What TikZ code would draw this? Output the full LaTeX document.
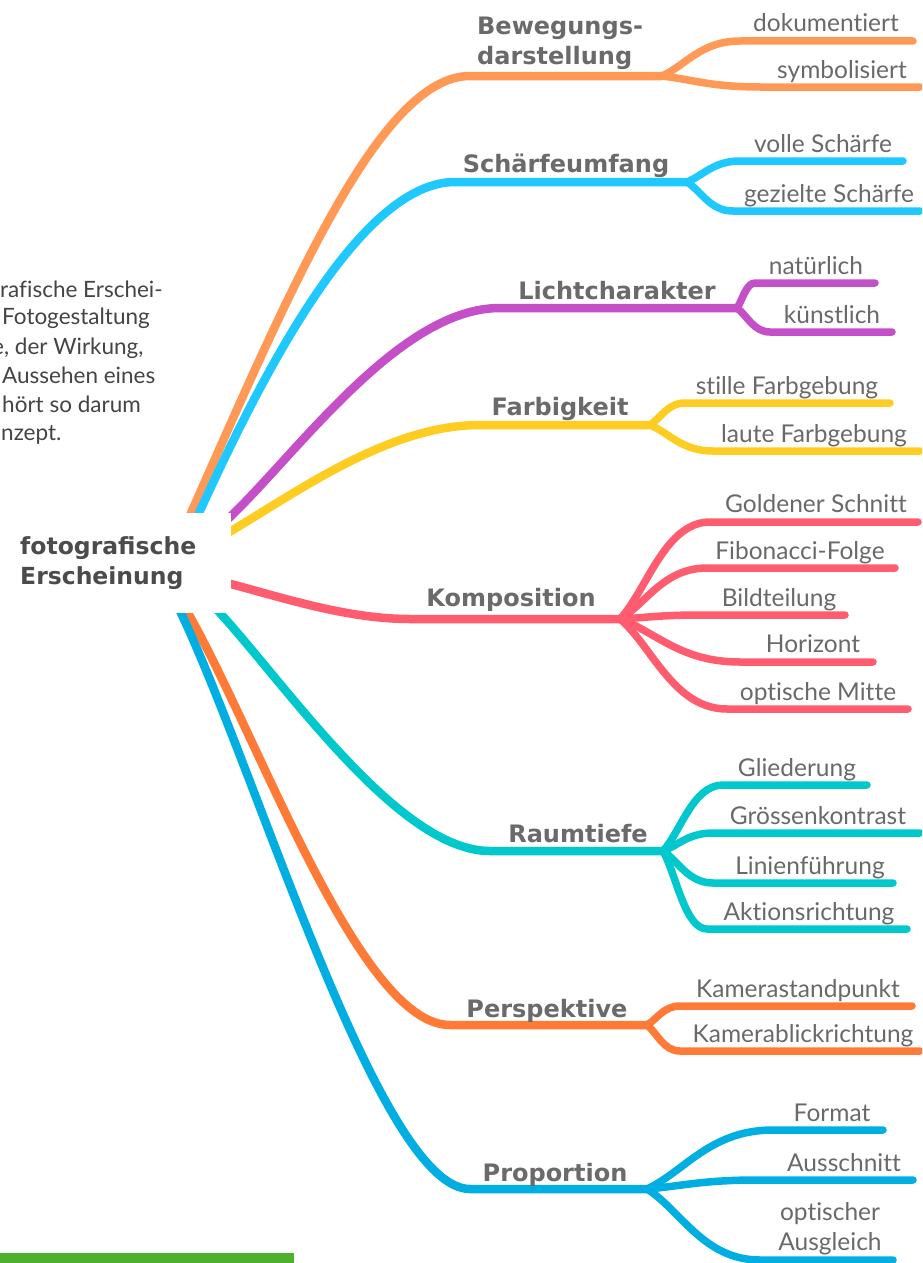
\documentclass[tikz,border=0pt]{standalone}
\usepackage{fontspec}
\setmainfont{Lato}[Ligatures=NoCommon]
\newfontfamily\headfont{DejaVu Sans}
\usetikzlibrary{calc}
\definecolor{cBew}{RGB}{255,153,85}
\definecolor{cSch}{RGB}{31,200,255}
\definecolor{cLic}{RGB}{196,79,200}
\definecolor{cFar}{RGB}{255,204,34}
\definecolor{cKom}{RGB}{255,92,112}
\definecolor{cRau}{RGB}{0,200,204}
\definecolor{cPer}{RGB}{255,122,54}
\definecolor{cPro}{RGB}{0,174,226}
\definecolor{barGreen}{RGB}{78,176,45}
\definecolor{labelgrey}{RGB}{105,105,105}
\definecolor{maingrey}{RGB}{106,106,106}
\definecolor{rootgrey}{RGB}{75,75,75}
\definecolor{paragrey}{RGB}{68,68,68}
\tikzset{
  mainline/.style={line width=8.5pt, line cap=butt, line join=round},
  subline/.style={line width=7.5pt, line cap=round, line join=round},
  sublabel/.style={anchor=base, inner sep=0pt, text=labelgrey, align=center, font=\fontsize{24.5}{30}\selectfont},
  mainlabel/.style={anchor=base, inner sep=0pt, text=maingrey, font=\headfont\bfseries\fontsize{24}{30}\selectfont},
  rootbox/.style={fill=white, minimum width=222pt, minimum height=100pt, inner sep=0pt},
  rootlabel/.style={anchor=base west, inner sep=0pt, text=rootgrey, align=left, font=\headfont\bfseries\fontsize{23.5}{30}\selectfont},
  para/.style={anchor=base west, inner sep=0pt, text=paragrey, font=\fontsize{22.5}{28}\selectfont},
}
% main branch: #1 colour, #2 name, #3 start, #4 control 1, #5 control 2, #6 horizontal start, #7 split point
\newcommand\mbranch[7]{%
  \coordinate (#2-0) at (#3);
  \coordinate (#2-c1) at (#4);
  \coordinate (#2-c2) at (#5);
  \coordinate (#2-h) at (#6);
  \coordinate (#2) at (#7);
  \draw[mainline,#1] ($(#2-0)!-0.25!(#2-c1)$) -- (#2-0) .. controls (#2-c1) and (#2-c2) .. (#2-h) -- (#2);
}
% sub branch: #1 colour, #2 split name, #3 name, #4 horizontal start x, #5 y, #6 end x
\newcommand\sbranch[6]{%
  \coordinate (#3-h) at (#4,#5);
  \coordinate (#3) at (#6,#5);
  \coordinate (#3-a) at ($(#2)!0.3!(#3-h)$);
  \coordinate (#3-m) at ($(#2)!0.5!(#3-h)$);
  \draw[subline,#1] (#2) .. controls (#3-a) and (#3-m |- #3-h) .. (#3-h) -- (#3);
}
\begin{document}
\begin{tikzpicture}[x=1pt,y=-1pt]
\useasboundingbox (0,0) rectangle (922,1263);
\clip (0,0) rectangle (922,1263);

% text at the left, cut by the edge
\node[para] (p1) at (0,297) {rafische Erschei-};
\node[para] (p2) at (2,324) {Fotogestaltung};
\node[para] (p3) at (-8,354) {e, der Wirkung,};
\node[para] (p4) at (2,383) {Aussehen eines};
\node[para] (p5) at (2,412) {hört so darum};
\node[para] (p6) at (1,440) {nzept.};

% main branches
\mbranch{cBew}{bew}{191,513}{290,290}{380,76}{470,76}{662,76}
\mbranch{cSch}{sch}{199,513}{262,375}{360,182}{455,182}{687,182}
\mbranch{cLic}{lic}{229,518}{300,450}{400,308}{500,308}{737,308}
\mbranch{cFar}{far}{231,531}{300,490}{390,425}{480,425}{650,425}
\mbranch{cKom}{kom}{231,584}{290,600}{350,619}{410,619}{620,619}
\mbranch{cRau}{rau}{220,613}{290,690}{400,851}{490,851}{663,851}
\mbranch{cPer}{per}{188,613}{260,740}{360,1025}{450,1025}{647,1025}
\mbranch{cPro}{pro}{181,613}{260,780}{380,1189}{470,1189}{647,1189}

% sub branches
\sbranch{cBew}{bew}{dok}{740}{41}{913}
\sbranch{cBew}{bew}{sym}{760}{87}{920}
\sbranch{cSch}{sch}{vol}{740}{161}{903}
\sbranch{cSch}{sch}{gez}{733}{211}{920}
\sbranch{cLic}{lic}{nat}{755}{283}{875}
\sbranch{cLic}{lic}{kun}{770}{332}{892}
\sbranch{cFar}{far}{sti}{685}{403}{890}
\sbranch{cFar}{far}{lau}{713}{451}{920}
\sbranch{cKom}{kom}{gol}{710}{522}{918}
\sbranch{cKom}{kom}{fib}{707}{568}{895}
\sbranch{cKom}{kom}{bil}{700}{615}{845}
\sbranch{cKom}{kom}{hor}{740}{662}{873}
\sbranch{cKom}{kom}{opt}{727}{709}{908}
\sbranch{cRau}{rau}{gli}{723}{785}{867}
\sbranch{cRau}{rau}{gro}{713}{833}{920}
\sbranch{cRau}{rau}{lin}{713}{883}{893}
\sbranch{cRau}{rau}{akt}{707}{929}{907}
\sbranch{cPer}{per}{kst}{680}{1006}{912}
\sbranch{cPer}{per}{kbr}{680}{1051}{920}
\sbranch{cPro}{pro}{for}{773}{1130}{883}
\sbranch{cPro}{pro}{aus}{757}{1180}{913}
\sbranch{cPro}{pro}{oau}{760}{1260}{893}

% root
\node[rootbox] (root) at (120,563) {};
\node[rootlabel] (roottext) at (20,584) {fotografische\\Erscheinung};

% main labels
\node[mainlabel, anchor=base west, align=left] (lbew) at (477,64) {Bewegungs-\\darstellung};
\node[mainlabel] (lsch) at (566,172) {Schärfeumfang};
\node[mainlabel] (llic) at (617,299) {Lichtcharakter};
\node[mainlabel] (lfar) at (560,415) {Farbigkeit};
\node[mainlabel] (lkom) at (511,606) {Komposition};
\node[mainlabel] (lrau) at (578,842) {Raumtiefe};
\node[mainlabel] (lper) at (547,1017) {Perspektive};
\node[mainlabel] (lpro) at (555,1181) {Proportion};

% sub labels
\node[sublabel] (tdok) at (826,32) {dokumentiert};
\node[sublabel] (tsym) at (842,78) {symbolisiert};
\node[sublabel] (tvol) at (823,152) {volle Schärfe};
\node[sublabel] (tgez) at (829,202) {gezielte Schärfe};
\node[sublabel] (tnat) at (816,274) {natürlich};
\node[sublabel] (tkun) at (832,323) {künstlich};
\node[sublabel] (tsti) at (787,394) {stille Farbgebung};
\node[sublabel] (tlau) at (814,442) {laute Farbgebung};
\node[sublabel] (tgol) at (816,512) {Goldener Schnitt};
\node[sublabel] (tfib) at (800,559) {Fibonacci-Folge};
\node[sublabel] (tbil) at (779,606) {Bildteilung};
\node[sublabel] (thor) at (813,652) {Horizont};
\node[sublabel] (topt) at (818,700) {optische Mitte};
\node[sublabel] (tgli) at (797,776) {Gliederung};
\node[sublabel] (tgro) at (818,824) {Grössenkontrast};
\node[sublabel] (tlin) at (810,874) {Linienführung};
\node[sublabel] (takt) at (809,920) {Aktionsrichtung};
\node[sublabel] (tkst) at (798,997) {Kamerastandpunkt};
\node[sublabel] (tkbr) at (803,1042) {Kamerablickrichtung};
\node[sublabel] (tfor) at (832,1121) {Format};
\node[sublabel] (taus) at (844,1171) {Ausschnitt};
\node[sublabel] (toau) at (830,1250) {optischer\\Ausgleich};

% green bar
\fill[barGreen] (0,1253) rectangle (294,1263);
\end{tikzpicture}
\end{document}
